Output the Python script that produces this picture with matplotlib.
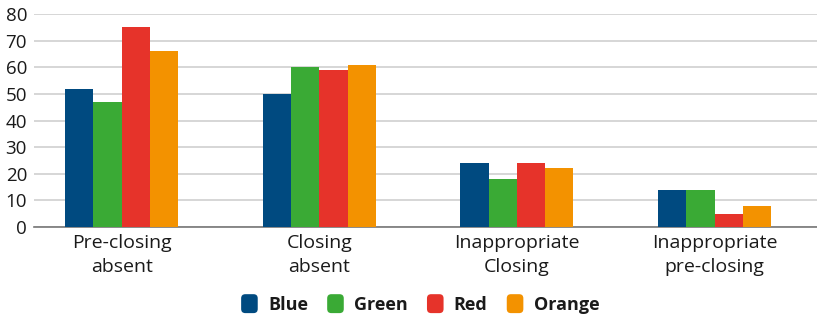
import numpy as np
import matplotlib.pyplot as plt
from matplotlib.patches import FancyBboxPatch
from matplotlib.legend_handler import HandlerPatch

plt.rcParams['font.family'] = ['Open Sans', 'DejaVu Sans']

categories = ["Pre-closing\nabsent", "Closing\nabsent", "Inappropriate\nClosing", "Inappropriate\npre-closing"]
series = ["Blue", "Green", "Red", "Orange"]
blue = [52, 50, 24, 14]
green = [47, 60, 18, 14]
red = [75, 59, 24, 5]
orange = [66, 61, 22, 8]
colors = ["#004a80", "#3aaa35", "#e6332a", "#f39200"]


class RoundBox(HandlerPatch):
    def create_artists(self, legend, orig_handle, xdescent, ydescent, width, height, fontsize, trans):
        p = FancyBboxPatch((-xdescent + 1.5, -ydescent - 1), width - 3, height + 2,
                           boxstyle="round,pad=0,rounding_size=3",
                           facecolor=orig_handle.get_facecolor(), edgecolor='none', transform=trans)
        return [p]


fig = plt.figure(figsize=(8.17, 3.18), dpi=100)
ax = fig.add_axes([34 / 817, 0.286, 783 / 817, 0.67])

x = np.arange(len(categories))
w = 0.143
bars = []
for i, (vals, c, name) in enumerate(zip([blue, green, red, orange], colors, series)):
    b = ax.bar(x + (i - 1.5) * w, vals, w, color=c, label=name, zorder=3)
    bars.append(b[0])

ax.set_xlim(-0.443, 3.518)
ax.set_ylim(0, 80)
ax.set_yticks(range(0, 81, 10))
ax.set_xticks(x)
ax.set_xticklabels(categories, fontsize=14, color="#1a1a1a", linespacing=1.45)
ax.tick_params(axis='y', labelsize=13.5, colors="#1a1a1a", length=0, pad=5)
ax.tick_params(axis='x', length=0, pad=5)
ax.grid(axis='y', color="#d0d0d0", linewidth=1.2, zorder=0)
for s in ['top', 'right', 'left']:
    ax.spines[s].set_visible(False)
ax.spines['bottom'].set_color("#777777")
ax.spines['bottom'].set_linewidth(1.2)

leg = fig.legend(bars, series, loc='lower center', bbox_to_anchor=(0.513, -0.038), ncol=4, frameon=False,
                 handlelength=1.15, handleheight=1.0, handletextpad=0.45, columnspacing=0.95,
                 prop={'weight': 'bold', 'size': 13},
                 handler_map={b: RoundBox() for b in bars})
for t in leg.get_texts():
    t.set_color("#1a1a1a")

fig.savefig("out.png", dpi=100)
